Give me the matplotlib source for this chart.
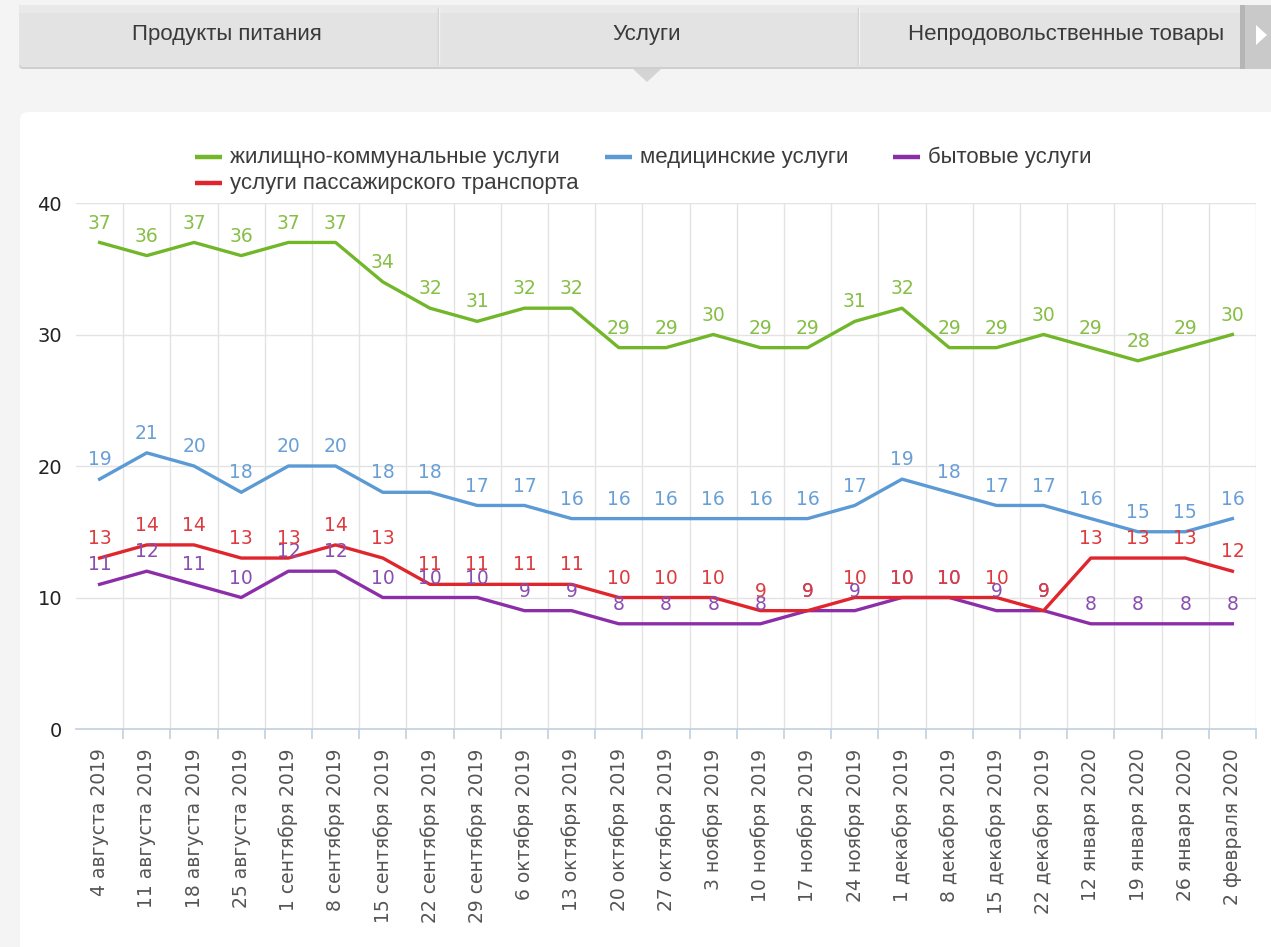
import matplotlib
matplotlib.use("Agg")
import matplotlib.pyplot as plt
from matplotlib.patches import FancyBboxPatch, Rectangle, Polygon
from matplotlib.lines import Line2D

dates = ["4 августа 2019", "11 августа 2019", "18 августа 2019", "25 августа 2019",
         "1 сентября 2019", "8 сентября 2019", "15 сентября 2019", "22 сентября 2019",
         "29 сентября 2019", "6 октября 2019", "13 октября 2019", "20 октября 2019",
         "27 октября 2019", "3 ноября 2019", "10 ноября 2019", "17 ноября 2019",
         "24 ноября 2019", "1 декабря 2019", "8 декабря 2019", "15 декабря 2019",
         "22 декабря 2019", "12 января 2020", "19 января 2020", "26 января 2020",
         "2 февраля 2020"]

housing = [37, 36, 37, 36, 37, 37, 34, 32, 31, 32, 32, 29, 29, 30, 29, 29, 31, 32, 29, 29, 30, 29, 28, 29, 30]
medical = [19, 21, 20, 18, 20, 20, 18, 18, 17, 17, 16, 16, 16, 16, 16, 16, 17, 19, 18, 17, 17, 16, 15, 15, 16]
transport = [13, 14, 14, 13, 13, 14, 13, 11, 11, 11, 11, 10, 10, 10, 9, 9, 10, 10, 10, 10, 9, 13, 13, 13, 12]
household = [11, 12, 11, 10, 12, 12, 10, 10, 10, 9, 9, 8, 8, 8, 8, 9, 9, 10, 10, 9, 9, 8, 8, 8, 8]

series_names = ["жилищно-коммунальные услуги", "медицинские услуги", "бытовые услуги",
                "услуги пассажирского транспорта"]
tabs = ["Продукты питания", "Услуги", "Непродовольственные товары"]
yticks = [0, 10, 20, 30, 40]

colors = {"housing": "#72b62a", "medical": "#5b9ad4", "transport": "#e0262d", "household": "#8c2ea8"}
label_colors = {"housing": "#86bf45", "medical": "#6a9fd6", "transport": "#dc3b3f", "household": "#8a4db0"}

W, H = 1271, 947
fig = plt.figure(figsize=(W / 100, H / 100), dpi=100)
fig.patch.set_facecolor("#f4f4f4")

narrow = ["Liberation Sans Narrow", "Liberation Sans", "DejaVu Sans"]

# decoration layer in pixel coordinates
bg = fig.add_axes([0, 0, 1, 1])
bg.set_xlim(0, W)
bg.set_ylim(H, 0)
bg.axis("off")
bg.set_zorder(0)

# tab bar
bg.add_patch(FancyBboxPatch((19, 7), 1300, 62, boxstyle="round,pad=0,rounding_size=4",
                            facecolor="#cfcfcf", edgecolor="none"))
bg.add_patch(FancyBboxPatch((19, 5), 1300, 62, boxstyle="round,pad=0,rounding_size=4",
                            facecolor="#e3e3e3", edgecolor="none"))
bg.add_patch(Rectangle((19, 5), 1300, 8, facecolor="#e9e9e9", edgecolor="none"))
for xd in [438, 858]:
    bg.add_line(Line2D([xd, xd], [8, 64], color="#cdcdcd", lw=1))
    bg.add_line(Line2D([xd + 1, xd + 1], [8, 64], color="#f2f2f2", lw=1))
bg.add_patch(Rectangle((1240, 5), 31, 64, facecolor="#b5b5b5", edgecolor="none"))
bg.add_patch(Rectangle((1245, 5), 26, 64, facecolor="#c9c9c9", edgecolor="none"))
bg.add_patch(Polygon([[1256, 25], [1256, 45], [1267, 35]], closed=True, facecolor="white", edgecolor="none"))
bg.add_patch(Polygon([[633, 69], [661, 69], [647, 82]], closed=True, facecolor="#d4d4d4", edgecolor="none"))
tab_x = [227, 647, 1066]
for t, xt in zip(tabs, tab_x):
    bg.text(xt, 34, t, ha="center", va="center", fontsize=16, color="#3a3a3a", family=narrow)

# white panel
bg.add_patch(FancyBboxPatch((20, 112), 1300, 900, boxstyle="round,pad=0,rounding_size=8",
                            facecolor="white", edgecolor="none"))

# legend (drawn manually to match layout)
leg = [("housing", series_names[0], 195, 157), ("medical", series_names[1], 605, 157),
       ("household", series_names[2], 893, 157), ("transport", series_names[3], 195, 183)]
for key, name, lx, ly in leg:
    bg.add_line(Line2D([lx, lx + 27], [ly, ly], color=colors[key], lw=3.2, solid_capstyle="butt"))
    bg.text(lx + 35, ly, name, ha="left", va="center", fontsize=16, color="#3c3c3c", family=narrow)

# chart
left, right, top, bottom = 76, 1256, 203, 729
ax = fig.add_axes([left / W, (H - bottom) / H, (right - left) / W, (bottom - top) / H])
ax.set_zorder(2)
ax.patch.set_alpha(0)
n = len(dates)
x = list(range(n))
ax.set_xlim(-0.5, n - 0.5)
ax.set_ylim(0, 40)

for v in yticks[1:]:
    ax.axhline(v, color="#e3e3e3", lw=1, zorder=0)
for b in range(n):
    ax.axvline(b + 0.5, color="#e3e3e3", lw=1, zorder=0)

for sp in ["top", "right", "left"]:
    ax.spines[sp].set_visible(False)
ax.spines["bottom"].set_color("#c0d0e0")
ax.spines["bottom"].set_linewidth(1.2)

ax.set_yticks(yticks)
ax.set_yticklabels([str(v) for v in yticks])
ax.tick_params(axis="y", length=0, pad=10, labelsize=14, labelcolor="#222222")

ax.set_xticks([b + 0.5 for b in range(n)])
ax.set_xticklabels([])
ax.tick_params(axis="x", which="major", length=7, color="#c0d0e0", width=1.2)
ax.set_xticks(x, minor=True)
ax.set_xticklabels(dates, minor=True, rotation=90, va="top", ha="center")
ax.tick_params(axis="x", which="minor", length=0, pad=14, labelsize=13.5, labelcolor="#555555")

order = [("household", household), ("transport", transport), ("medical", medical), ("housing", housing)]
for key, vals in order:
    ax.plot(x, vals, color=colors[key], lw=2.4, solid_joinstyle="round", zorder=3)
for key, vals in order:
    for xi, v in zip(x, vals):
        ax.annotate(str(v), (xi, v), xytext=(0, 14), textcoords="offset points",
                    ha="center", va="center", fontsize=13.5, color=label_colors[key], zorder=4)

fig.savefig("out.png", dpi=100, facecolor=fig.get_facecolor())
